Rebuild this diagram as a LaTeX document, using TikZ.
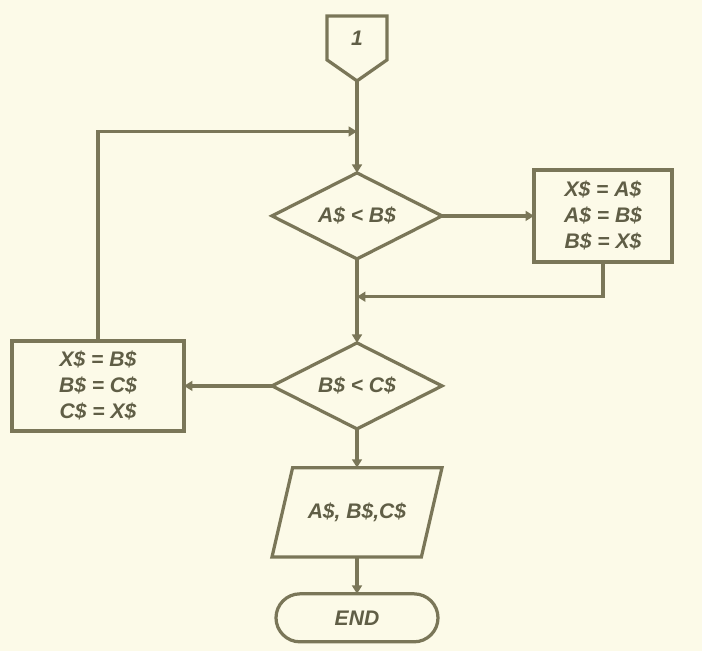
\documentclass[tikz,border=0pt]{standalone}
\usepackage{fontspec}
\setmainfont{Liberation Sans}
\definecolor{inkline}{RGB}{122,118,88}
\definecolor{inktext}{RGB}{96,94,70}
\definecolor{paper}{RGB}{252,250,232}
\usetikzlibrary{arrows.meta,positioning,calc,shapes.geometric,shapes.symbols}

\begin{document}
\begin{tikzpicture}[
      base/.style={draw=inkline, line width=2.3pt, text=inktext,
                   font=\fontsize{15}{18.5}\selectfont\bfseries\itshape,
                   align=center, inner sep=0pt, outer sep=0pt},
      dec/.style={base, diamond, aspect=2, minimum width=4.25cm, minimum height=2.15cm},
      asg/.style={base, rectangle, minimum width=3.45cm, minimum height=2.3cm},
      io/.style={base, trapezium, trapezium left angle=77, trapezium right angle=103,
                 trapezium stretches body=true, inner ysep=0.88cm, minimum width=4.25cm},
      term/.style={base, rectangle, rounded corners=0.6cm,
                   minimum width=4.05cm, minimum height=1.2cm},
      conn/.style={base, signal, signal to=south, signal pointer angle=110,
                   minimum width=1.5cm, minimum height=1.2cm},
      arr/.style={-{Triangle[length=6pt,width=7pt]}, line width=2.3pt, color=inkline}
  ]
    \fill[paper] (0,0) rectangle (17.55,-16.275);
    \useasboundingbox (0,0) rectangle (17.55,-16.275);
    \node[conn, anchor=north] (con) at (8.925,-0.4) {1};
    \node[dec, below=2.3cm of con]    (cmpab) {A\$ < B\$};
    \node[asg, right=2.3cm of cmpab]  (swpab) {X\$ = A\$\\ A\$ = B\$\\ B\$ = X\$};
    \node[dec, below=2.1cm of cmpab]  (cmpbc) {B\$ < C\$};
    \node[asg, minimum width=4.3cm, minimum height=2.25cm,
          left=2.2cm of cmpbc]        (swpbc) {X\$ = B\$\\ B\$ = C\$\\ C\$ = X\$};
    \node[io, below=0.97cm of cmpbc]  (prt) {A\$, B\$,C\$};
    \node[term, below=0.92cm of prt]  (stop) {END};
    \coordinate (jtop) at ($(con.south)!0.55!(cmpab.north)$);
    \coordinate (jmid) at ($(cmpab.south)!0.45!(cmpbc.north)$);
    \draw[arr] (con.south)--(cmpab.north);
    \draw[arr] (cmpab.east)--(swpab.west);
    \draw[arr] (swpab.south)|-(jmid);
    \draw[arr] (cmpab.south)--(cmpbc.north);
    \draw[arr] (cmpbc.west)--(swpbc.east);
    \draw[arr] (swpbc.north)|-(jtop);
    \draw[arr] (cmpbc.south)--(prt.north);
    \draw[arr] (prt.south)--(stop.north);
  \end{tikzpicture}
\end{document}
